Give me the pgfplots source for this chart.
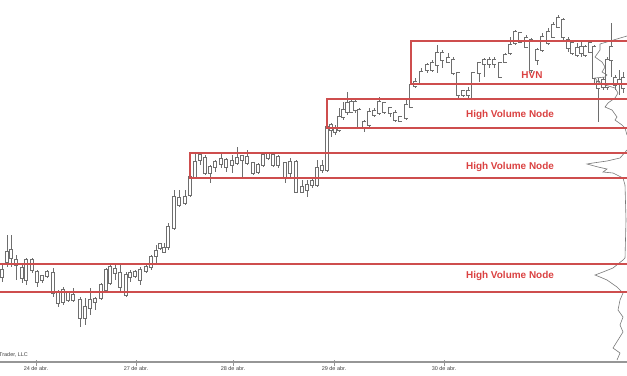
\documentclass[border=0pt]{standalone}
\usepackage{pgfplots}
\pgfplotsset{compat=1.18}
\usepackage{pgfplotstable}
\usepackage{fontspec}
\setmainfont{Liberation Sans}
\definecolor{boxred}{RGB}{206,78,78}
\definecolor{txtred}{RGB}{218,65,65}
\definecolor{candle}{RGB}{110,110,110}
\definecolor{prof}{RGB}{120,120,120}
\definecolor{axgray}{RGB}{150,150,150}
% candles in screen units: x, high, body top, body bottom, low
\pgfplotstableread{
x hi top bot lo
2 265 270 277 282
7 235 252 262 267
11 235 250 258 267
16 255 260 265 280
22 263 268 278 283
26 258 260 280 285
32 258 260 270 273
37 270 272 282 287
42 275 276 280 283
47 270 272 276 278
53 268 273 293 297
58 290 292 303 307
63 287 290 302 305
68 291 293 300 302
73 288 295 300 302
80 297 300 318 327
85 298 307 318 325
90 288 300 308 315
95 297 299 302 310
101 283 285 298 300
106 268 270 290 292
110 265 267 283 285
115 263 269 273 280
120 265 273 287 293
126 272 275 295 297
130 270 273 277 282
135 270 272 276 278
140 267 270 280 285
146 265 267 271 273
151 255 257 267 270
156 245 251 256 263
160 243 244 248 250
164 243 248 252 252
168 223 227 247 250
174 190 197 228 230
179 190 198 205 207
185 190 197 203 205
190 175 177 195 197
195 153 162 177 178
200 152 155 160 165
205 155 158 173 175
210 165 167 173 183
215 160 162 167 172
221 153 159 164 168
226 158 160 167 172
232 155 161 165 173
237 147 158 163 165
242 155 156 160 178
247 150 157 163 165
253 162 163 173 175
258 163 165 172 174
263 152 155 165 167
268 152 154 158 160
273 152 155 165 167
278 155 157 165 168
285 162 163 177 183
290 158 162 173 177
296 160 162 192 193
302 180 187 192 193
307 180 185 190 197
312 178 181 185 188
317 160 168 185 187
322 160 166 170 173
327 123 127 170 172
331 123 125 130 137
335 125 128 132 135
339 108 117 130 132
343 102 110 117 120
347 92 103 112 115
351 98 102 112 113
355 98 102 110 113
359 108 110 127 128
364 120 122 127 132
369 108 112 125 128
374 108 111 115 117
379 97 102 113 115
384 102 103 112 114
390 107 108 113 117
395 110 113 120 122
400 117 117 121 122
406 100 105 118 120
411 80 85 107 108
415 78 82 86 88
421 68 72 83 85
427 63 65 70 73
432 60 63 70 72
437 45 53 65 73
442 50 53 60 68
448 53 58 62 63
453 57 60 73 75
458 72 73 95 98
463 90 91 95 97
468 87 91 95 98
473 72 73 98 100
479 62 63 73 82
484 58 60 64 77
489 57 60 64 68
494 57 60 64 68
500 62 63 77 78
505 53 55 62 63
510 37 45 53 55
515 30 32 43 45
520 32 33 42 43
526 35 38 47 48
531 38 40 70 73
537 48 50 60 65
542 33 37 50 52
548 28 32 43 45
553 22 25 37 38
558 15 18 27 28
563 18 20 37 40
568 37 40 48 52
572 40 43 53 55
577 43 48 55 57
581 42 47 53 57
585 45 47 55 57
590 40 43 52 53
594 45 47 78 85
598 78 82 88 122
603 77 80 87 90
607 57 60 87 90
611 23 47 60 77
615 75 78 85 90
619 70 80 84 95
623 72 78 88 93
}\candles
\begin{document}
\begin{tikzpicture}
\begin{axis}[
  width=627bp, height=376bp, scale only axis,
  xmin=0, xmax=627, ymin=0, ymax=376, y dir=reverse,
  axis line style={draw=none}, xtick=\empty, ytick=\empty, clip=true,
]
% axis line and ticks
\addplot[axgray, line width=1.4pt] coordinates {(0,362) (627,362)};
\addplot[axgray, line width=0.5pt] coordinates {(36,360) (36,366)};
\addplot[axgray, line width=0.5pt] coordinates {(136,360) (136,366)};
\addplot[axgray, line width=0.5pt] coordinates {(233,360) (233,366)};
\addplot[axgray, line width=0.5pt] coordinates {(334,360) (334,366)};
\addplot[axgray, line width=0.5pt] coordinates {(444,360) (444,366)};
% wicks
\addplot[draw=none, no markers, error bars/.cd, y dir=both, y explicit, error mark=none,
  error bar style={draw=candle, line width=0.7pt}]
  table[x=x, y expr={(\thisrow{hi}+\thisrow{lo})/2}, y error expr={abs(\thisrow{lo}-\thisrow{hi})/2}] {\candles};
% body outlines
\addplot[draw=none, no markers, error bars/.cd, y dir=both, y explicit, error mark=none,
  error bar style={draw=candle, line width=4.4pt}]
  table[x=x, y expr={(\thisrow{top}+\thisrow{bot})/2}, y error expr={abs(\thisrow{bot}-\thisrow{top})/2+0.55}] {\candles};
% body interiors
\addplot[draw=none, no markers, error bars/.cd, y dir=both, y explicit, error mark=none,
  error bar style={draw=white, line width=3.0pt}]
  table[x=x, y expr={(\thisrow{top}+\thisrow{bot})/2}, y error expr={max(abs(\thisrow{bot}-\thisrow{top})/2-0.4,0)}] {\candles};
% volume profile
\addplot[prof, line width=0.6pt] coordinates {(627,36) (600,44) (600,50) (595,57) (602,62) (605,67) (602,72) (607,75) (605,77) (595,78) (598,82) (605,85) (615,88) (618,93) (615,98) (608,103) (605,107) (612,110) (617,117) (615,120) (622,125) (625,128) (627,135)};
\addplot[prof, line width=0.6pt] coordinates {(627,150) (620,158) (607,161) (593,163) (587,164) (598,167) (607,169) (603,172) (613,173) (623,178) (625,185) (626,220) (625,258) (623,260) (613,268) (603,272) (595,275) (600,277) (607,280) (617,287) (623,293) (620,300) (618,310) (623,317) (620,325) (623,332) (618,340) (613,348) (620,353) (617,360)};
% boxes
\addplot[boxred, line width=1.3pt] coordinates {(0,264) (630,264)};
\addplot[boxred, line width=1.3pt] coordinates {(0,292) (630,292)};
\addplot[boxred, line width=1.3pt] coordinates {(630,153) (190,153) (190,178) (630,178)};
\addplot[boxred, line width=1.3pt] coordinates {(630,99) (327,99) (327,128) (630,128)};
\addplot[boxred, line width=1.3pt] coordinates {(630,41) (411,41) (411,84) (630,84)};
% labels
\node[font=\bfseries\fontsize{10}{11}\selectfont, text=txtred] at (axis cs:510,115) {High Volume Node};
\node[font=\bfseries\fontsize{10}{11}\selectfont, text=txtred] at (axis cs:510,167) {High Volume Node};
\node[font=\bfseries\fontsize{10}{11}\selectfont, text=txtred] at (axis cs:510,276) {High Volume Node};
\node[font=\bfseries\fontsize{10}{11}\selectfont, text=txtred] at (axis cs:532,75) {HVN};
\node[font=\fontsize{5.5}{6}\selectfont, text=black!75, anchor=west, inner sep=0pt] at (axis cs:-1,355) {Trader, LLC};
\node[font=\fontsize{5.5}{6}\selectfont, text=black!75] at (axis cs:36,369) {24 de abr.};
\node[font=\fontsize{5.5}{6}\selectfont, text=black!75] at (axis cs:136,369) {27 de abr.};
\node[font=\fontsize{5.5}{6}\selectfont, text=black!75] at (axis cs:233,369) {28 de abr.};
\node[font=\fontsize{5.5}{6}\selectfont, text=black!75] at (axis cs:334,369) {29 de abr.};
\node[font=\fontsize{5.5}{6}\selectfont, text=black!75] at (axis cs:444,369) {30 de abr.};
\end{axis}
\end{tikzpicture}
\end{document}
